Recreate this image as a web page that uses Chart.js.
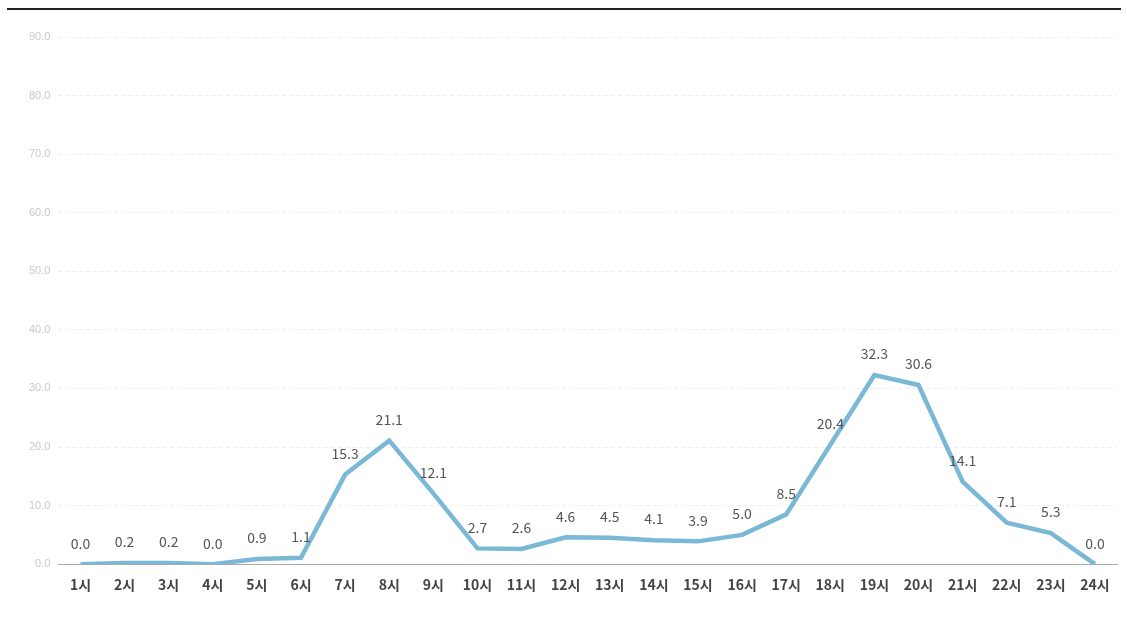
<!DOCTYPE html>
<html>
<head>
<meta charset="utf-8">
<script src="https://cdn.jsdelivr.net/npm/chart.js@4"></script>
<style>
  html, body { margin: 0; padding: 0; background: #fff; }
  #topLine { position: absolute; left: 7px; right: 6px; top: 8px; height: 2px; background: #222; }
  #wrap { position: absolute; left: 0; top: 0; width: 1127px; height: 623px; }
</style>
</head>
<body>
<div id="topLine"></div>
<div id="wrap"><canvas id="hourChart" width="1127" height="623"></canvas></div>
<script>
// hourly values
var hours = ["1시", "2시", "3시", "4시", "5시", "6시", "7시", "8시", "9시", "10시", "11시", "12시",
  "13시", "14시", "15시", "16시", "17시", "18시", "19시", "20시", "21시", "22시", "23시", "24시"];
var values = [0.0, 0.2, 0.2, 0.0, 0.9, 1.1, 15.3, 21.1, 12.1, 2.7, 2.6, 4.6,
  4.5, 4.1, 3.9, 5.0, 8.5, 20.4, 32.3, 30.6, 14.1, 7.1, 5.3, 0.0];
var yMax = 90;
var yStep = 10;

var fontFamily = "'Noto Sans CJK KR', 'Noto Sans', sans-serif";

// draw value above each point
var valueLabels = {
  id: "valueLabels",
  afterDatasetsDraw: function (chart) {
    var ctx = chart.ctx;
    var meta = chart.getDatasetMeta(0);
    ctx.save();
    ctx.font = "14px " + fontFamily;
    ctx.fillStyle = "#555";
    ctx.textAlign = "center";
    ctx.textBaseline = "middle";
    meta.data.forEach(function (pt, i) {
      ctx.fillText(values[i].toFixed(1), pt.x, pt.y - 21);
    });
    ctx.restore();
  },
};

var el = document.getElementById("hourChart");
var hourChart = new Chart(el, {
  type: "line",
  data: {
    labels: hours,
    datasets: [
      {
        data: values,
        borderColor: "#7ab8d6",
        borderWidth: 4.5,
        pointRadius: 0,
        tension: 0,
        fill: false,
      },
    ],
  },
  options: {
    responsive: false,
    animation: false,
    layout: { padding: { top: 37, right: 10, bottom: 18, left: 21 } },
    plugins: {
      legend: { display: false },
      tooltip: { enabled: false },
    },
    scales: {
      x: {
        offset: true,
        grid: { display: false, drawTicks: false },
        border: { display: true, color: "#aaa", width: 1 },
        ticks: {
          color: "#444",
          padding: 12,
          maxRotation: 0,
          autoSkip: false,
          font: { family: fontFamily, size: 14, weight: "bold" },
        },
      },
      y: {
        min: 0,
        max: yMax,
        grid: { color: "#eee", drawTicks: false },
        border: { display: false, dash: [4, 3] },
        ticks: {
          stepSize: yStep,
          color: "#c8c8c8",
          padding: 8,
          font: { family: "'Liberation Sans', Arial, sans-serif", size: 11 },
          callback: function (v) { return v.toFixed(1); },
        },
      },
    },
  },
  plugins: [valueLabels],
});
</script>
</body>
</html>
